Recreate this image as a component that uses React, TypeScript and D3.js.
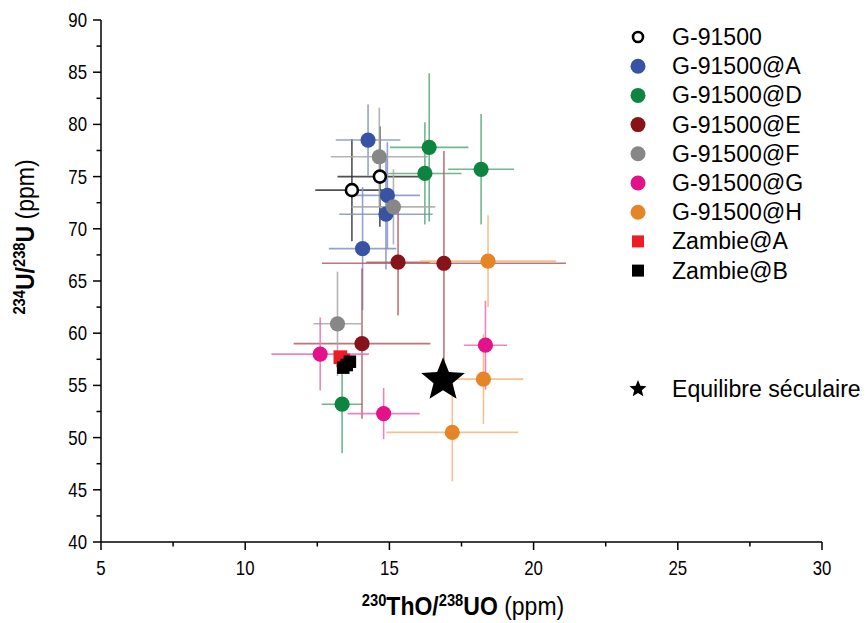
import React from "react";
import * as d3 from "d3";

// ---------- data ----------
// each entry: [x, y, xErr, yErr]
const g91500 = [[13.7, 73.7, 1.27, 4.9], [14.67, 75.0, 1.47, 4.8]];
const g91500A = [[14.26, 78.5, 1.12, 3.4], [14.93, 73.2, 1.13, 5.1], [14.88, 71.4, 1.62, 5.3], [14.07, 68.1, 1.17, 5.9]];
const g91500D = [[16.38, 77.8, 1.36, 7.1], [16.23, 75.3, 1.27, 4.9], [18.18, 75.7, 1.14, 5.3], [13.36, 53.2, 0.71, 4.7]];
const g91500E = [[15.3, 66.8, 1.1, 5.1], [16.89, 66.7, 4.23, 10.75], [14.05, 59.0, 2.37, 7.2]];
const g91500F = [[14.65, 76.9, 1.68, 4.7], [15.14, 72.1, 1.45, 3.6], [13.2, 60.9, 0.83, 5.0]];
const g91500G = [[12.6, 58.0, 1.69, 3.5], [14.8, 52.3, 1.25, 2.45], [18.33, 58.85, 0.75, 4.26]];
const g91500H = [[18.42, 66.9, 2.36, 4.4], [18.26, 55.6, 1.38, 4.3], [17.18, 50.5, 2.29, 4.7]];
const zambieA = [[13.3, 57.7], [13.4, 57.4]];
const zambieB = [[13.4, 56.7], [13.52, 56.95], [13.63, 57.27]];
const equilibre = [[16.86, 55.5]];

const seriesNames = ["G-91500", "G-91500@A", "G-91500@D", "G-91500@E", "G-91500@F", "G-91500@G", "G-91500@H", "Zambie@A", "Zambie@B"];
const seriesColors = ["#000000", "#3953a4", "#0e8441", "#861419", "#878787", "#e3118a", "#e58526", "#ee1c25", "#000000"];
const barColors = ["#333333", "#8392c8", "#5aaa7c", "#b45e66", "#a8a8a8", "#ec6fb4", "#f2b880", "#ee1c25", "#000000"];
const seriesShapes = ["open", "circle", "circle", "circle", "circle", "circle", "circle", "square", "square"];
const seriesData = [g91500, g91500A, g91500D, g91500E, g91500F, g91500G, g91500H, zambieA, zambieB];

const xDomain = [5, 30];
const yDomain = [40, 90];
const xTickValues = [5, 10, 15, 20, 25, 30];
const yTickValues = [40, 45, 50, 55, 60, 65, 70, 75, 80, 85, 90];
const starLabel = "Equilibre séculaire";

const sans = "'Liberation Sans', Arial, sans-serif";
const SQ = 0.84; // horizontal squeeze for the narrow tick font
const TQ = 0.92; // squeeze for axis titles

function starPath(cx: number, cy: number, R: number, r: number) {
  const pts: [number, number][] = [];
  for (let i = 0; i < 10; i++) {
    const a = -Math.PI / 2 + (i * Math.PI) / 5;
    const rad = i % 2 === 0 ? R : r;
    pts.push([cx + rad * Math.cos(a), cy + rad * Math.sin(a)]);
  }
  return d3.line()(pts) + "Z";
}

export default function App() {
  const x = d3.scaleLinear().domain(xDomain).range([101, 822]);
  const y = d3.scaleLinear().domain(yDomain).range([542, 20]);

  const xMinor = d3.range(xDomain[0] + 2.5, xDomain[1], 5);
  const yMinor = d3.range(yDomain[0] + 2.5, yDomain[1], 5);

  const marker = (shape: string, color: string, cx: number, cy: number, key: string, size = 1) => {
    if (shape === "open") return <circle key={key} cx={cx} cy={cy} r={6} fill="#fff" stroke="#000" strokeWidth={2.6} />;
    if (shape === "circle") return <circle key={key} cx={cx} cy={cy} r={7.6} fill={color} />;
    const s = 12.5 * size;
    return <rect key={key} x={cx - s / 2} y={cy - s / 2} width={s} height={s} fill={color} />;
  };

  return (
    <svg width={868} height={623} style={{ position: "absolute", left: 0, top: 0, background: "#fff" }}>
      {/* error bars */}
      {seriesData.map((data, si) =>
        data.map((d, i) =>
          d.length > 2 ? (
            <g key={`e${si}-${i}`} stroke={barColors[si]} strokeWidth={1.6} opacity={0.85}>
              <line x1={x(d[0] - d[2])} x2={x(d[0] + d[2])} y1={y(d[1])} y2={y(d[1])} />
              <line x1={x(d[0])} x2={x(d[0])} y1={y(d[1] - d[3])} y2={y(d[1] + d[3])} />
            </g>
          ) : null
        )
      )}
      {/* markers */}
      {seriesData.map((data, si) =>
        data.map((d, i) => marker(seriesShapes[si], seriesColors[si], x(d[0]), y(d[1]), `m${si}-${i}`, si === 7 ? 1.1 : 1))
      )}
      {equilibre.map((d, i) => (
        <path key={`s${i}`} d={starPath(x(d[0]), y(d[1]), 23, 10)} fill="#000" />
      ))}

      {/* axes */}
      <g stroke="#000" strokeWidth={1.5}>
        <line x1={x(xDomain[0])} x2={x(xDomain[1])} y1={y(yDomain[0])} y2={y(yDomain[0])} />
        <line x1={x(xDomain[0])} x2={x(xDomain[0])} y1={y(yDomain[0])} y2={y(yDomain[1])} />
        {xTickValues.map((t) => (
          <line key={`xt${t}`} x1={x(t)} x2={x(t)} y1={y(yDomain[0])} y2={y(yDomain[0]) + 8} />
        ))}
        {xMinor.map((t) => (
          <line key={`xm${t}`} x1={x(t)} x2={x(t)} y1={y(yDomain[0])} y2={y(yDomain[0]) + 4.5} />
        ))}
        {yTickValues.map((t) => (
          <line key={`yt${t}`} x1={x(xDomain[0]) - 8} x2={x(xDomain[0])} y1={y(t)} y2={y(t)} />
        ))}
        {yMinor.map((t) => (
          <line key={`ym${t}`} x1={x(xDomain[0]) - 4.5} x2={x(xDomain[0])} y1={y(t)} y2={y(t)} />
        ))}
      </g>
      <g fontFamily={sans} fontSize={20} fill="#000">
        {xTickValues.map((t) => (
          <text key={`xl${t}`} transform={`translate(${x(t)},575) scale(${SQ},1)`} textAnchor="middle">{t}</text>
        ))}
        {yTickValues.map((t) => (
          <text key={`yl${t}`} transform={`translate(87,${y(t) + 7}) scale(${SQ},1)`} textAnchor="end">{t}</text>
        ))}
      </g>

      {/* axis titles */}
      <text transform={`translate(463,615) scale(${TQ},1)`} textAnchor="middle" fontFamily={sans} fontSize={25} fill="#000">
        <tspan fontSize={16} fontWeight="bold" dy={-9}>230</tspan>
        <tspan fontWeight="bold" dy={9}>ThO/</tspan>
        <tspan fontSize={16} fontWeight="bold" dy={-9}>238</tspan>
        <tspan fontWeight="bold" dy={9}>UO</tspan>
        <tspan> (ppm)</tspan>
      </text>
      <text transform={`translate(34,237) rotate(-90) scale(${TQ},1)`} textAnchor="middle" fontFamily={sans} fontSize={25} fill="#000">
        <tspan fontSize={16} fontWeight="bold" dy={-9}>234</tspan>
        <tspan fontWeight="bold" dy={9}>U/</tspan>
        <tspan fontSize={16} fontWeight="bold" dy={-9}>238</tspan>
        <tspan fontWeight="bold" dy={9}>U</tspan>
        <tspan> (ppm)</tspan>
      </text>

      {/* legend */}
      <g fontFamily={sans} fontSize={23.1} fill="#000">
        {seriesNames.map((n, i) => {
          const ly = 37 + i * 29.2;
          return (
            <g key={`lg${i}`}>
              {seriesShapes[i] === "open" ? (
                <circle cx={638} cy={ly} r={5} fill="#fff" stroke="#000" strokeWidth={2.6} />
              ) : seriesShapes[i] === "circle" ? (
                <circle cx={638} cy={ly} r={7.5} fill={seriesColors[i]} />
              ) : (
                <rect x={632} y={ly - 6} width={12} height={12} fill={seriesColors[i]} />
              )}
              <text x={672} y={ly + 8}>{n}</text>
            </g>
          );
        })}
        <path d={starPath(638, 389, 9, 4)} fill="#000" />
        <text x={672} y={397}>{starLabel}</text>
      </g>
    </svg>
  );
}
